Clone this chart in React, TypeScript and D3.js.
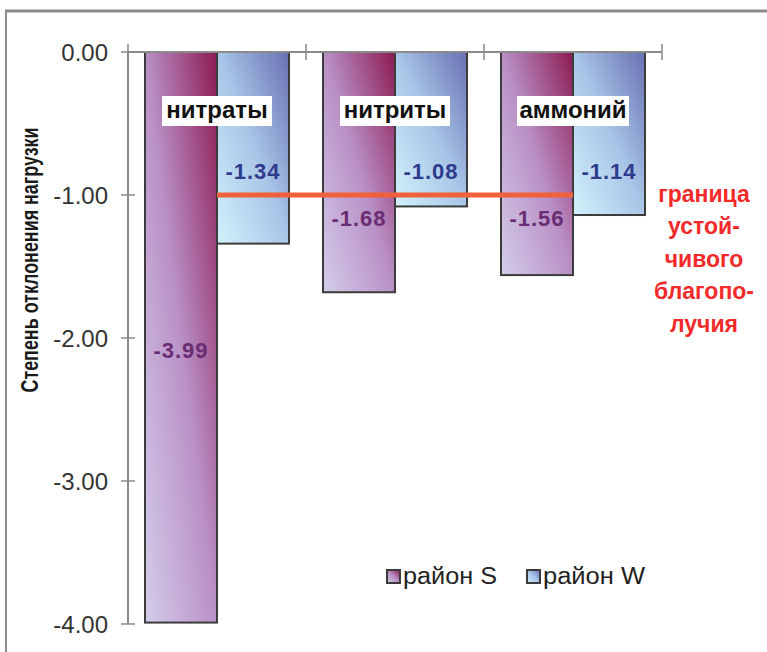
import React from "react";
import * as d3 from "d3";

const categories = ["нитраты", "нитриты", "аммоний"];
const seriesNames = ["район S", "район W"];
const valuesS = [-3.99, -1.68, -1.56];
const valuesW = [-1.34, -1.08, -1.14];
const yTicks = [0, -1, -2, -3, -4];
const threshold = -1;
const thresholdLabel = ["граница", "устой-", "чивого", "благопо-", "лучия"];
const yTitle = "Степень отклонения нагрузки";

const W = 767;
const H = 652;
const FONT = "Arial, 'Liberation Sans', Helvetica, sans-serif";

export default function App() {
  const y = d3.scaleLinear().domain([0, -4]).range([52, 624]);
  const x0 = d3.scaleBand<string>().domain(categories).range([128, 662]).padding(0);
  const x1 = d3
    .scaleBand<string>()
    .domain(seriesNames)
    .range([0, x0.bandwidth()])
    .paddingInner(0)
    .paddingOuter(0.236);
  const series = [valuesS, valuesW];
  const fills = ["url(#gradS)", "url(#gradW)"];
  const labelColors = ["#6a2c74", "#2e3a8c"];

  const labelY = (si: number, v: number) => {
    if (si === 1) return y(-0.83);
    if (v < -2) return (y(0) + y(v)) / 2 + 13;
    return y(-1.16);
  };

  const lineX1 = x0(categories[0])! + x1(seriesNames[1])!;
  const lineX2 = x0(categories[2])! + x1(seriesNames[0])! + x1.bandwidth();

  const catLabelW = [110, 110, 112];
  const legendX = [387, 527];
  const legendTextLen = [94, 102];

  return (
    <svg
      width={W}
      height={H}
      style={{ position: "absolute", left: 0, top: 0, background: "#fff" }}
      fontFamily={FONT}
    >
      <defs>
        <linearGradient id="gradS" x1="0" y1="1" x2="1" y2="0">
          <stop offset="0" stopColor="#d4cdea" />
          <stop offset="0.5" stopColor="#b990c6" />
          <stop offset="1" stopColor="#8c1a52" />
        </linearGradient>
        <linearGradient id="gradW" x1="0" y1="1" x2="1" y2="0">
          <stop offset="0" stopColor="#d2f2fb" />
          <stop offset="0.5" stopColor="#a9c6e8" />
          <stop offset="1" stopColor="#6870b2" />
        </linearGradient>
      </defs>

      {/* frame */}
      <line x1={5} x2={W} y1={11} y2={11} stroke="#8c8c8c" strokeWidth={3} />
      <line x1={6} x2={6} y1={10} y2={H} stroke="#8c8c8c" strokeWidth={2} />

      {/* bars */}
      {categories.map((c, ci) =>
        seriesNames.map((s, si) => {
          const v = series[si][ci];
          const bx = x0(c)! + x1(s)!;
          return (
            <rect
              key={c + s}
              x={bx}
              y={y(0)}
              width={x1.bandwidth()}
              height={y(v) - y(0)}
              fill={fills[si]}
              stroke="#3c3c3c"
              strokeWidth={2}
            />
          );
        })
      )}

      {/* y axis */}
      <line x1={128} x2={128} y1={y(0)} y2={y(-4)} stroke="#8a8a8a" strokeWidth={2} />
      {yTicks.map((t) => (
        <g key={t}>
          <line x1={121} x2={135} y1={y(t)} y2={y(t)} stroke="#8a8a8a" strokeWidth={1.5} />
          <text
            x={108}
            y={y(t)}
            dy="0.36em"
            textAnchor="end"
            fontSize={24}
            fill="#333"
          >
            {d3.format(".2f")(t).replace("−", "-")}
          </text>
        </g>
      ))}

      {/* top category axis */}
      <line x1={128} x2={662} y1={y(0)} y2={y(0)} stroke="#8a8a8a" strokeWidth={2} />
      {[...categories.map((c) => x0(c)!), 662].map((bx, i) => (
        <line key={i} x1={bx} x2={bx} y1={y(0) - 8} y2={y(0) + 8} stroke="#8a8a8a" strokeWidth={1.5} />
      ))}

      {/* threshold line */}
      <line x1={lineX1} x2={lineX2} y1={y(threshold)} y2={y(threshold)} stroke="#f0603a" strokeWidth={5} />

      {/* value labels */}
      {categories.map((c, ci) =>
        seriesNames.map((s, si) => {
          const v = series[si][ci];
          const cx = x0(c)! + x1(s)! + x1.bandwidth() / 2;
          return (
            <text
              key={"l" + c + s}
              x={cx}
              y={labelY(si, v)}
              dy="0.36em"
              textAnchor="middle"
              fontSize={22}
              fontWeight="bold"
              fill={labelColors[si]}
              letterSpacing={1}
            >
              {v.toFixed(2)}
            </text>
          );
        })
      )}

      {/* category labels */}
      {categories.map((c, ci) => {
        const cx = x0(c)! + x0.bandwidth() / 2;
        const w = catLabelW[ci];
        return (
          <g key={"c" + c}>
            <rect x={cx - w / 2} y={96} width={w} height={30} fill="#fff" />
            <text x={cx} y={111} dy="0.3em" textAnchor="middle" fontSize={24} fontWeight="bold" fill="#111">
              {c}
            </text>
          </g>
        );
      })}

      {/* threshold annotation */}
      {thresholdLabel.map((t, i) => (
        <text
          key={t}
          x={704}
          y={y(threshold) + i * 32.5}
          dy="0.3em"
          textAnchor="middle"
          fontSize={23}
          fontWeight="bold"
          fill="#f22a2a"
        >
          {t}
        </text>
      ))}

      {/* y title */}
      <text
        transform={`translate(38, 260) rotate(-90)`}
        textAnchor="middle"
        fontSize={24}
        fontWeight="bold"
        fill="#1a1a1a"
        textLength={265}
        lengthAdjust="spacingAndGlyphs"
      >
        {yTitle}
      </text>

      {/* legend */}
      {seriesNames.map((s, si) => {
        const lx = legendX[si];
        return (
          <g key={"lg" + s}>
            <rect x={lx} y={570} width={13} height={13} fill={fills[si]} stroke="#3c3c3c" strokeWidth={2} />
            <text
              x={lx + 16}
              y={584}
              fontSize={23}
              fill="#222"
              textLength={legendTextLen[si]}
              lengthAdjust="spacingAndGlyphs"
            >
              {s}
            </text>
          </g>
        );
      })}
    </svg>
  );
}
